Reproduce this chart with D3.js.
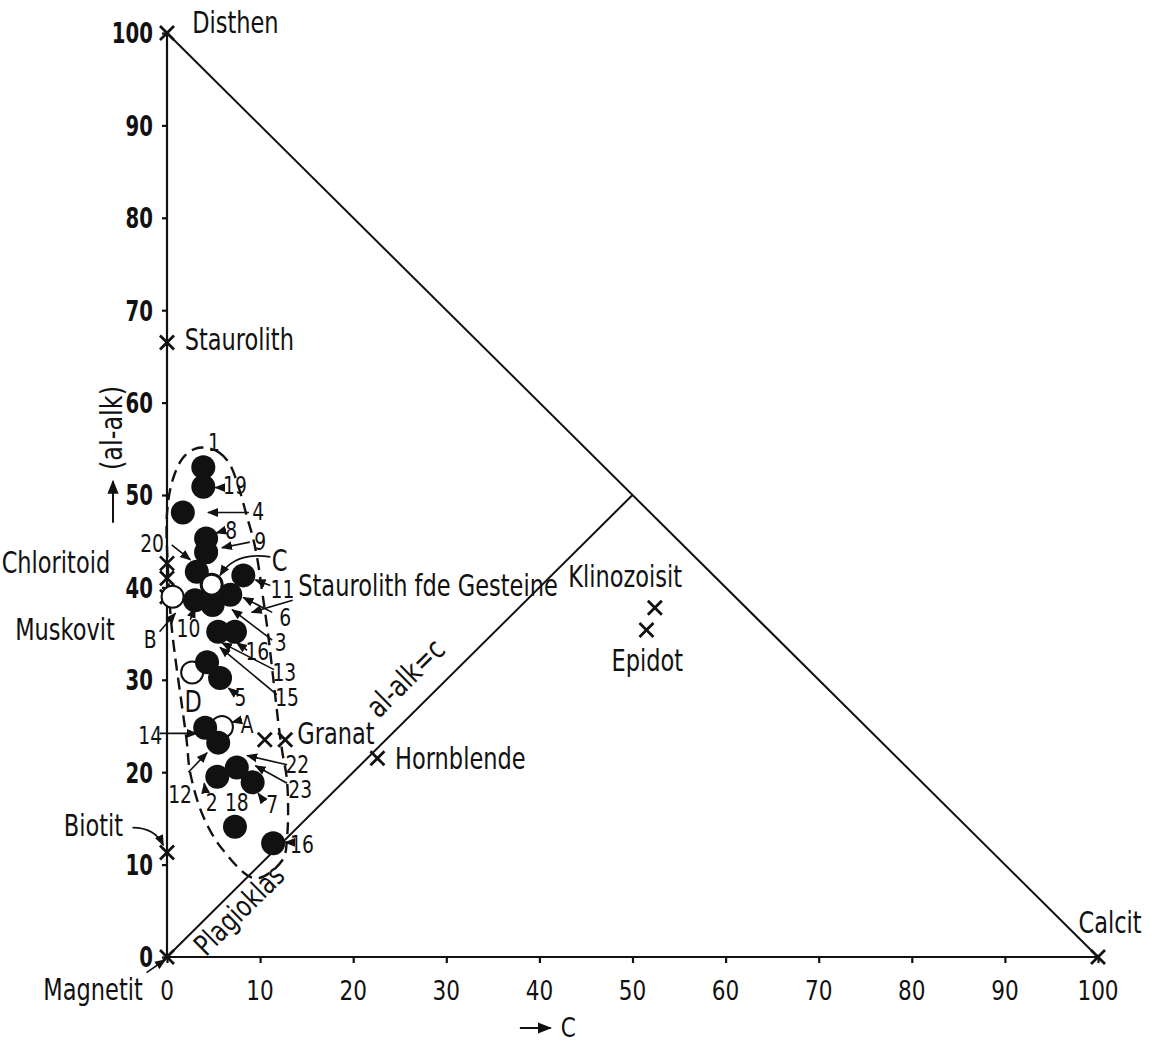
<!DOCTYPE html>
<meta charset="utf-8">
<style>
body { margin: 0; background: #fff; }
svg text { font-family: "DejaVu Sans", sans-serif; fill: #111; }
.lbl { font-size: 30px; }
.num { font-size: 24px; }
.axis path, .axis line { stroke: #111; stroke-width: 2.2px; }
.tri { stroke: #111; stroke-width: 2px; fill: none; }
</style>
<body>
<script src="https://cdn.jsdelivr.net/npm/d3@7"></script>
<script>

// ticks
var xTicks = [0, 10, 20, 30, 40, 50, 60, 70, 80, 90, 100];
var yTicks = [0, 10, 20, 30, 40, 50, 60, 70, 80, 90, 100];

// samples (c, al-alk): filled dots
var solidC =  [3.9, 3.9, 1.7, 4.2, 4.2, 3.2, 8.2, 3.0, 4.9, 6.8, 5.5, 7.3, 4.3, 5.7, 4.1, 5.5, 5.4, 7.5, 9.2, 7.3, 11.4];
var solidAl = [53.0, 50.9, 48.1, 45.3, 43.8, 41.7, 41.3, 38.6, 38.1, 39.2, 35.2, 35.2, 31.9, 30.2, 24.8, 23.2, 19.5, 20.5, 18.9, 14.1, 12.3];

// open circles A B C D
var openNames = ["C", "B", "D", "A"];
var openC =  [4.8, 0.6, 2.7, 5.9];
var openAl = [40.3, 39.0, 30.8, 24.9];

// minerals (crosses)
var minNames = ["Disthen", "Staurolith", "Chloritoid", "Chloritoid", "Muskovit", "Biotit", "Magnetit", "Calcit",
                "Granat", "Granat", "Hornblende", "Klinozoisit", "Epidot"];
var minC =  [0, 0, 0, 0, 0, 0, 0, 100, 10.5, 12.7, 22.6, 52.4, 51.5];
var minAl = [100, 66.5, 42.6, 41.0, 39.0, 11.3, 0, 0, 23.5, 23.5, 21.5, 37.8, 35.4];

// dashed field around the samples
var fieldC =  [4.3, 5.6, 6.7, 7.8, 8.6, 9.2, 9.7, 10.3, 10.8, 11.1, 12.1, 12.4, 12.9, 12.9, 12.4, 9.5, 6.0, 3.9, 2.5, 2.1, 0.5, 0.1, 0.0, 0.6, 1.7, 3.0];
var fieldAl = [55.1, 54.6, 53.4, 50.5, 47.6, 45.5, 43.1, 39.0, 35.4, 32.9, 24.2, 22.1, 19.0, 13.0, 10.5, 8.5, 11.6, 15.2, 19.9, 23.5, 35.7, 42.0, 48.0, 51.6, 54.0, 55.0];

// labels: text, position (c, al-alk), anchor, leader from -> to
var labels = [
  ["1", 5.05, 55.7, "middle"],
  ["19", 7.3, 51.0, "middle", 5.9, 50.8, 5.2, 50.8],
  ["4", 9.8, 48.2, "middle", 8.8, 48.1, 4.4, 48.1],
  ["8", 6.9, 46.2, "middle", 6.0, 46.1, 5.3, 45.9],
  ["9", 10.0, 45.0, "middle", 8.9, 44.9, 5.9, 44.3],
  ["20", -1.6, 44.7, "middle", 0.5, 44.6, 2.5, 43.0],
  ["C", 12.1, 42.9, "middle"],
  ["11", 12.4, 39.8, "middle", 11.1, 40.2, 9.5, 40.8],
  ["6", 12.7, 36.7, "middle", 11.3, 37.3, 8.2, 38.9],
  ["3", 12.2, 34.0, "middle", 11.3, 34.3, 7.0, 37.6],
  ["10", 2.3, 35.5, "middle", 2.5, 36.5, 3.0, 37.8],
  ["B", -1.8, 34.4, "middle", -0.8, 35.2, 0.9, 37.2],
  ["16", 9.7, 33.0, "middle", 8.6, 33.2, 7.5, 34.0],
  ["13", 12.6, 30.8, "middle", 11.5, 31.1, 5.9, 34.0],
  ["15", 12.9, 28.1, "middle", 11.8, 28.4, 5.7, 33.5],
  ["5", 7.9, 28.1, "middle", 7.5, 28.4, 6.6, 29.1],
  ["D", 2.8, 27.6, "middle"],
  ["A", 8.6, 25.2, "middle", 7.8, 25.6, 7.0, 25.4],
  ["14", -1.8, 24.0, "middle", -0.8, 24.2, 3.2, 24.2],
  ["22", 14.0, 20.8, "middle", 12.9, 20.8, 8.6, 21.8],
  ["23", 14.3, 18.1, "middle", 12.9, 18.8, 9.5, 20.7],
  ["12", 1.4, 17.6, "middle", 2.3, 20.0, 4.3, 22.1],
  ["2", 4.8, 16.7, "middle", 4.1, 18.1, 4.0, 18.8],
  ["18", 7.5, 16.7, "middle"],
  ["7", 11.3, 16.5, "middle", 10.3, 17.0, 9.8, 17.7],
  ["16", 14.5, 12.2, "middle", 13.2, 12.4, 12.7, 12.4],
  ["Disthen", 2.7, 101.1, "start"],
  ["Staurolith", 1.9, 66.8, "start"],
  ["Chloritoid", -6.1, 42.7, "end"],
  ["Muskovit", -5.6, 35.4, "end"],
  ["Biotit", -7.9, 14.2, "middle"],
  ["Magnetit", -2.6, -3.5, "end", -2.2, -1.7, -0.2, -0.3],
  ["Staurolith fde Gesteine", 14.1, 40.2, "start", 13.5, 38.6, 9.1, 37.3],
  ["Granat", 14.0, 24.2, "start"],
  ["Hornblende", 24.5, 21.5, "start"],
  ["Klinozoisit", 43.1, 41.2, "start"],
  ["Epidot", 51.6, 32.1, "middle"],
  ["Calcit", 97.9, 3.7, "start"]
];

var width = 1162, height = 1046;
var x = d3.scaleLinear().domain([0, 100]).range([167, 1098]);
var y = d3.scaleLinear().domain([0, 100]).range([957, 33]);

var svg = d3.select("body").append("svg")
    .attr("width", width)
    .attr("height", height);

svg.append("defs").append("marker")
    .attr("id", "arr")
    .attr("viewBox", "0 0 10 10")
    .attr("refX", 9).attr("refY", 5)
    .attr("markerWidth", 7).attr("markerHeight", 7)
    .attr("orient", "auto")
  .append("path")
    .attr("d", "M0,1 L10,5 L0,9 Z")
    .attr("fill", "#111");

// narrow lettering: squeeze text horizontally
function narrow(sel, px, py, sx, rot) {
  sel.attr("transform", "translate(" + px + "," + py + ")" + (rot ? " rotate(" + rot + ")" : "") + " scale(" + sx + ",1)");
}

// axes (labels drawn separately so they can be squeezed)
var yAxis = d3.axisLeft(y).tickValues(yTicks).tickSize(5).tickFormat("");
var xAxis = d3.axisBottom(x).tickValues(xTicks).tickSize(6).tickFormat("");

var gy = svg.append("g").attr("class", "axis")
    .attr("transform", "translate(" + x(0) + ",0)")
    .call(yAxis);
gy.select(".domain").attr("d", "M0," + y(0) + "V" + y(100));

var gx = svg.append("g").attr("class", "axis")
    .attr("transform", "translate(0," + y(0) + ")")
    .call(xAxis);
gx.select(".domain").attr("d", "M" + x(0) + ",0H" + x(100));

svg.selectAll(".ytl").data(yTicks).enter().append("text")
    .attr("class", "ytl")
    .attr("text-anchor", "end")
    .attr("dy", "0.36em")
    .style("font-size", "29px").style("font-weight", "bold")
    .each(function(d) { narrow(d3.select(this), x(0) - 14, y(d), 0.68); })
    .text(function(d) { return d; });

svg.selectAll(".xtl").data(xTicks).enter().append("text")
    .attr("class", "xtl")
    .attr("text-anchor", "middle")
    .attr("dy", "0.36em")
    .style("font-size", "27px")
    .each(function(d) { narrow(d3.select(this), x(d), y(0) + 33, 0.8); })
    .text(function(d) { return d; });

// triangle hypotenuse and al-alk = c line
svg.append("line").attr("class", "tri")
    .attr("x1", x(0)).attr("y1", y(100)).attr("x2", x(100)).attr("y2", y(0));
svg.append("line").attr("class", "tri")
    .attr("x1", x(0)).attr("y1", y(0)).attr("x2", x(50)).attr("y2", y(50));

// axis titles
svg.append("text")
    .attr("text-anchor", "middle")
    .style("font-size", "30px")
    .each(function() { d3.select(this).attr("transform", "translate(122,428) rotate(-90) scale(0.8,1)"); })
    .text("(al-alk)");
svg.append("line")
    .attr("x1", 113).attr("y1", y(47)).attr("x2", 113).attr("y2", y(51.5))
    .attr("stroke", "#111").attr("stroke-width", 2)
    .attr("marker-end", "url(#arr)");
svg.append("line")
    .attr("x1", x(37.9)).attr("y1", 1028).attr("x2", x(41.2)).attr("y2", 1028)
    .attr("stroke", "#111").attr("stroke-width", 2)
    .attr("marker-end", "url(#arr)");
svg.append("text")
    .attr("class", "lbl")
    .style("font-size", "27px")
    .attr("dy", "0.35em")
    .each(function() { narrow(d3.select(this), x(42.3), 1028, 0.8); })
    .text("C");

// rotated line labels
var ang = Math.atan2(y(50) - y(0), x(50) - x(0)) * 180 / Math.PI;
svg.append("text")
    .attr("text-anchor", "middle")
    .attr("class", "lbl")
    .each(function() { narrow(d3.select(this), x(26.4), y(29.4), 0.78, ang); })
    .text("al-alk=c");
svg.append("text")
    .attr("text-anchor", "middle")
    .attr("class", "lbl")
    .style("font-size", "29px")
    .each(function() { narrow(d3.select(this), x(8.5), y(4.3), 0.78, ang); })
    .text("Plagioklas");

// dashed field
var field = fieldC.map(function(c, i) { return [c, fieldAl[i]]; });
svg.append("path")
    .datum(field)
    .attr("fill", "none")
    .attr("stroke", "#111")
    .attr("stroke-width", 2.4)
    .attr("stroke-dasharray", "12,7")
    .attr("d", d3.line()
        .x(function(d) { return x(d[0]); })
        .y(function(d) { return y(d[1]); })
        .curve(d3.curveCatmullRomClosed));

// mineral crosses
var minerals = minC.map(function(c, i) { return {name: minNames[i], c: c, al: minAl[i]}; });
svg.selectAll(".cross").data(minerals).enter().append("path")
    .attr("class", "cross")
    .attr("d", function(d) {
        var px = x(d.c), py = y(d.al), s = 7;
        return "M" + (px - s) + "," + (py - s) + "L" + (px + s) + "," + (py + s) +
               "M" + (px + s) + "," + (py - s) + "L" + (px - s) + "," + (py + s);
    })
    .attr("stroke", "#111").attr("stroke-width", 2.8);

// open circles then filled dots
var open = openC.map(function(c, i) { return {name: openNames[i], c: c, al: openAl[i]}; });
svg.selectAll(".open").data(open).enter().append("circle")
    .attr("class", "open")
    .attr("cx", function(d) { return x(d.c); })
    .attr("cy", function(d) { return y(d.al); })
    .attr("r", 11)
    .attr("fill", "#fff").attr("stroke", "#111").attr("stroke-width", 2);

var solid = solidC.map(function(c, i) { return {c: c, al: solidAl[i]}; });
svg.selectAll(".dot").data(solid).enter().append("circle")
    .attr("class", "dot")
    .attr("cx", function(d) { return x(d.c); })
    .attr("cy", function(d) { return y(d.al); })
    .attr("r", 12)
    .attr("fill", "#111");

// open circle C sits on top
svg.selectAll(".openTop").data(open.filter(function(d) { return d.name === "C"; })).enter().append("circle")
    .attr("cx", function(d) { return x(d.c); })
    .attr("cy", function(d) { return y(d.al); })
    .attr("r", 10)
    .attr("fill", "#fff").attr("stroke", "#111").attr("stroke-width", 2);

// leader lines
var leaders = labels.filter(function(d) { return d.length > 4; });
svg.selectAll(".lead").data(leaders).enter().append("line")
    .attr("x1", function(d) { return x(d[4]); })
    .attr("y1", function(d) { return y(d[5]); })
    .attr("x2", function(d) { return x(d[6]); })
    .attr("y2", function(d) { return y(d[7]); })
    .attr("stroke", "#111").attr("stroke-width", 1.6)
    .attr("marker-end", "url(#arr)");

// curved pointers for C and Biotit
svg.append("path")
    .attr("d", "M" + x(11.1) + "," + y(43.3) + "Q" + x(7.3) + "," + y(43.9) + " " + x(5.7) + "," + y(41.3))
    .attr("fill", "none").attr("stroke", "#111").attr("stroke-width", 1.6)
    .attr("marker-end", "url(#arr)");
svg.append("path")
    .attr("d", "M" + x(-3.7) + "," + y(14.0) + "Q" + x(-1.3) + "," + y(14.0) + " " + x(-0.4) + "," + y(12.1))
    .attr("fill", "none").attr("stroke", "#111").attr("stroke-width", 1.6)
    .attr("marker-end", "url(#arr)");

// texts
svg.selectAll(".lab").data(labels).enter().append("text")
    .attr("class", function(d) { return (/^[0-9AB]+$/).test(d[0]) ? "num" : "lbl"; })
    .attr("dy", "0.35em")
    .attr("text-anchor", function(d) { return d[3]; })
    .each(function(d) {
        var isNum = (/^[0-9AB]+$/).test(d[0]);
        narrow(d3.select(this), x(d[1]), y(d[2]), isNum ? 0.78 : 0.75);
    })
    .text(function(d) { return d[0]; });

</script>
</body>
